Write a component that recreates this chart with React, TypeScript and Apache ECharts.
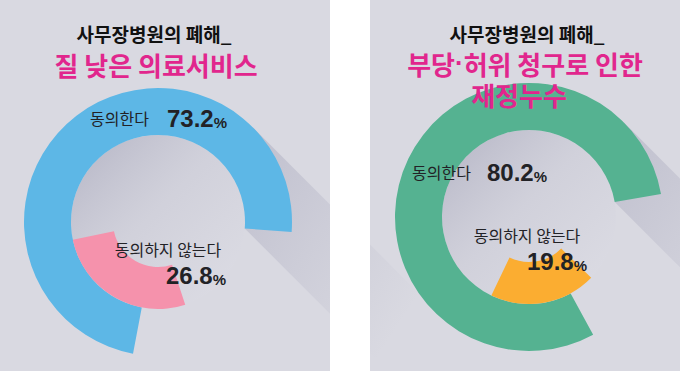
import React, { useEffect, useRef } from "react";
import * as echarts from "echarts";

// ---- data ----
const leftTitle = ["사무장병원의 폐해_", "질 낮은 의료서비스"];
const rightTitle = ["사무장병원의 폐해_", "부당·허위 청구로 인한", "재정누수"];
const answerLabels = ["동의한다", "동의하지 않는다"];
const leftValues = [73.2, 26.8];
const rightValues = [80.2, 19.8];

// ---- styling / layout ----
const KR = '"Noto Sans CJK KR", "Noto Sans", sans-serif';
const NUM = '"Liberation Sans", Arial, sans-serif';
const BG = "#d9d9e1";
const INK = "#222226";
const MAGENTA = "#e1268d";
const LEFT = { cx: 158, cy: 222, colors: ["#5db7e6", "#f592ac"], outerStart: -100.75, innerMid: 210 };
const RIGHT = { cx: 529, cy: 217, colors: ["#55b291", "#fbad31"], outerStart: -61.4, innerMid: 170 };
const R_OUT = 134;
const R_IN = 87;
const R_CORE = 45;

const norm = (a: number) => ((a % 360) + 360) % 360;

function pieSeries(p: typeof LEFT, values: number[]) {
  const total = values[0] + values[1];
  const innerSpan = (values[1] / total) * 360;
  const innerStartClock = p.innerMid - innerSpan / 2;
  const common = {
    type: "pie" as const,
    center: [p.cx, p.cy],
    silent: true,
    clockwise: true,
    label: { show: false },
    labelLine: { show: false },
    emphasis: { disabled: true },
    itemStyle: { borderWidth: 0 },
    z: 2,
  };
  return [
    {
      ...common,
      radius: [R_IN, R_OUT],
      startAngle: norm(p.outerStart),
      data: [
        { name: answerLabels[0], value: values[0], itemStyle: { color: p.colors[0] } },
        { name: answerLabels[1], value: values[1], itemStyle: { color: "rgba(0,0,0,0)" } },
      ],
    },
    {
      ...common,
      radius: [R_CORE, R_IN],
      startAngle: norm(90 - innerStartClock),
      data: [
        { name: answerLabels[1], value: values[1], itemStyle: { color: p.colors[1] } },
        { name: answerLabels[0], value: values[0], itemStyle: { color: "rgba(0,0,0,0)" } },
      ],
    },
  ];
}

function shadowEls(p: typeof LEFT, values: number[]) {
  const total = values[0] + values[1];
  const endClock = 90 - p.outerStart + (values[0] / total) * 360; // clockwise degrees from 12 o'clock
  const th = (endClock * Math.PI) / 180;
  const A = [p.cx + R_OUT * Math.SQRT1_2, p.cy - R_OUT * Math.SQRT1_2];
  const C = [p.cx + R_IN * Math.sin(th), p.cy - R_IN * Math.cos(th)];
  const d = 170;
  return [
    {
      type: "polygon",
      z: 1,
      silent: true,
      shape: { points: [A, [A[0] + d, A[1] + d], [C[0] + d, C[1] + d], C] },
      style: {
        fill: new echarts.graphic.LinearGradient(0, 0, 1, 1, [
          { offset: 0, color: "rgba(130,130,160,0.30)" },
          { offset: 0.4, color: "rgba(130,130,160,0.14)" },
          { offset: 0.8, color: "rgba(130,130,160,0)" },
        ]),
      },
    },
    {
      type: "circle",
      z: 1,
      silent: true,
      shape: { cx: p.cx, cy: p.cy, r: R_IN },
      style: {
        fill: new echarts.graphic.LinearGradient(0, 0, 1, 1, [
          { offset: 0, color: "rgba(140,140,165,0.50)" },
          { offset: 0.45, color: "rgba(170,170,190,0.18)" },
          { offset: 1, color: "rgba(240,240,246,0.15)" },
        ]),
      },
    },
  ];
}

function txt(x: number, y: number, text: string, font: string, fill: string, align = "center", extra: any = {}) {
  return {
    type: "text",
    z: 10,
    silent: true,
    x,
    y,
    style: {
      text,
      font,
      fill,
      textAlign: align,
      align,
      textVerticalAlign: "middle",
      verticalAlign: "middle",
      ...extra,
    },
  };
}

function numText(x: number, y: number, value: number, align: string) {
  return txt(x, y, `{n|${value.toFixed(1)}}{p|%}`, `bold 24px ${NUM}`, INK, align, {
    rich: {
      n: { font: `bold 24px ${NUM}`, fill: INK, color: INK, verticalAlign: "bottom", lineHeight: 26 },
      p: { font: `bold 15px ${NUM}`, fill: INK, color: INK, verticalAlign: "bottom", lineHeight: 22 },
    },
  });
}

// magenta title line; a middle dot (·) is set in a Latin font so it stays narrow
function magentaLine(x: number, y: number, line: string) {
  const body = line.split("·").map((s) => `{k|${s}}`).join("{d|·}");
  return txt(x, y, body, `bold 26px ${KR}`, MAGENTA, "center", {
    rich: {
      k: { font: `bold 26px ${KR}`, fill: MAGENTA, color: MAGENTA, lineHeight: 28 },
      d: { font: `bold 26px ${NUM}`, fill: MAGENTA, color: MAGENTA, lineHeight: 28 },
    },
  });
}

export default function App() {
  const ref = useRef<HTMLDivElement>(null);
  useEffect(() => {
    const chart = echarts.init(ref.current!, null, { renderer: "svg" });
    const graphics: any[] = [
      { type: "rect", z: 0, silent: true, shape: { x: 0, y: 0, width: 330, height: 371 }, style: { fill: BG } },
      { type: "rect", z: 0, silent: true, shape: { x: 370, y: 0, width: 310, height: 371 }, style: { fill: BG } },
      ...shadowEls(LEFT, leftValues),
      ...shadowEls(RIGHT, rightValues),
      { type: "rect", z: 1.5, silent: true, shape: { x: 330, y: 0, width: 40, height: 371 }, style: { fill: "#ffffff" } },
      // titles
      txt(154, 33, leftTitle[0], `bold 19px ${KR}`, "#111"),
      magentaLine(156, 64, leftTitle[1]),
      txt(527, 33, rightTitle[0], `bold 19px ${KR}`, "#111"),
      magentaLine(525, 63, rightTitle[1]),
      magentaLine(519, 94, rightTitle[2]),
      // left labels
      txt(90, 118, answerLabels[0], `16px ${KR}`, INK, "left"),
      numText(167, 117, leftValues[0], "left"),
      txt(168, 249, answerLabels[1], `16px ${KR}`, INK),
      numText(226, 274, leftValues[1], "right"),
      // right labels
      txt(412, 172, answerLabels[0], `16px ${KR}`, INK, "left"),
      numText(487, 171, rightValues[0], "left"),
      txt(527, 235, answerLabels[1], `16px ${KR}`, INK),
      numText(587, 260, rightValues[1], "right"),
    ];
    chart.setOption({
      animation: false,
      backgroundColor: "#ffffff",
      graphic: { elements: graphics },
      series: [...pieSeries(LEFT, leftValues), ...pieSeries(RIGHT, rightValues)],
    });
    return () => chart.dispose();
  }, []);
  return <div ref={ref} style={{ position: "fixed", left: 0, top: 0, width: 680, height: 371 }} />;
}
